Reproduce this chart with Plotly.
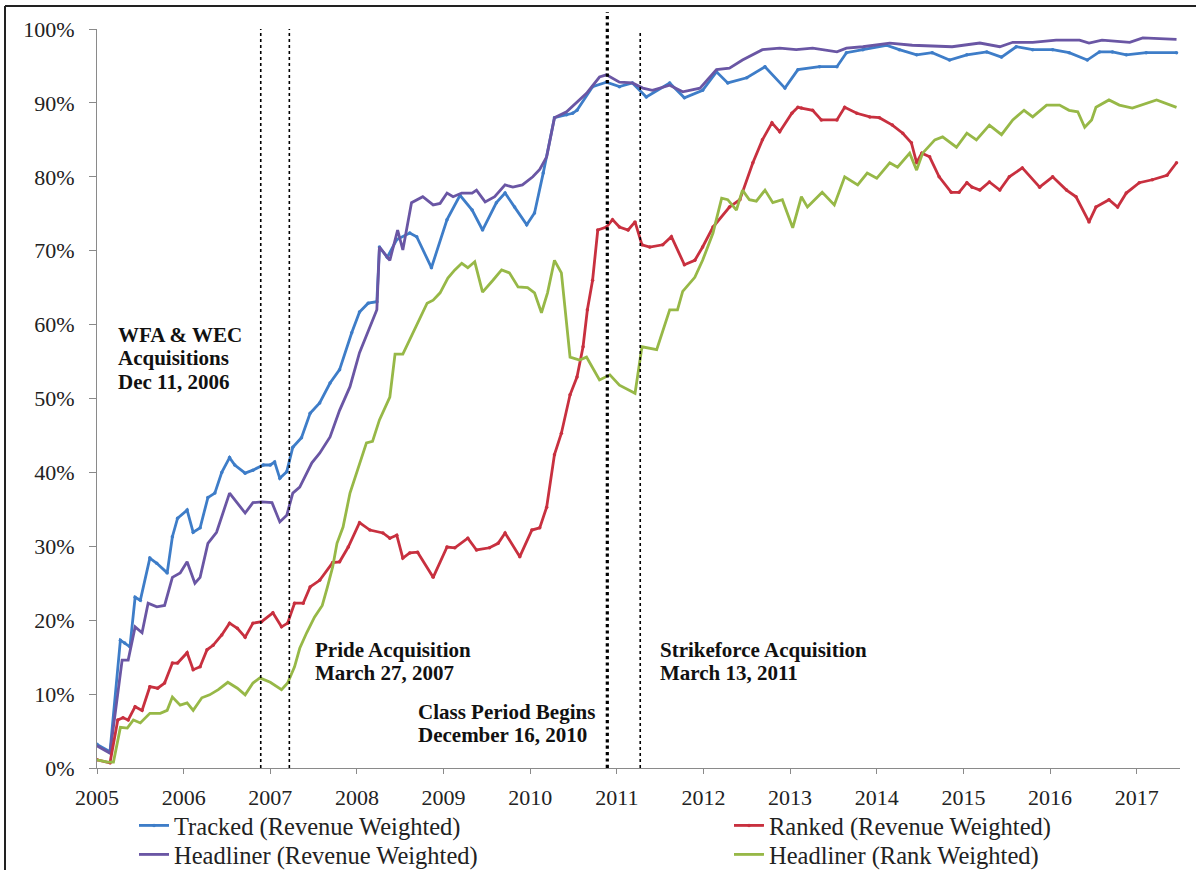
import plotly.graph_objects as go

# ---------------- data (decimal years, percent) ----------------
tracked_x = [2005.00, 2005.15, 2005.27, 2005.32, 2005.38, 2005.44, 2005.50, 2005.61, 2005.69, 2005.81,
             2005.87, 2005.93, 2006.04, 2006.11, 2006.19, 2006.28, 2006.36, 2006.44, 2006.53, 2006.59,
             2006.71, 2006.80, 2006.92, 2007.00, 2007.05, 2007.11, 2007.19, 2007.26, 2007.36, 2007.46,
             2007.57, 2007.69, 2007.80, 2007.94, 2008.03, 2008.13, 2008.23, 2008.26, 2008.35, 2008.46,
             2008.61, 2008.69, 2008.86, 2009.04, 2009.19, 2009.33, 2009.45, 2009.61, 2009.71, 2009.82,
             2009.96, 2010.05, 2010.15, 2010.28, 2010.42, 2010.49, 2010.54, 2010.72, 2010.88, 2011.03,
             2011.18, 2011.34, 2011.61, 2011.78, 2011.99, 2012.15, 2012.28, 2012.50, 2012.71, 2012.94,
             2013.09, 2013.34, 2013.54, 2013.65, 2013.84, 2014.11, 2014.26, 2014.46, 2014.64, 2014.84,
             2015.04, 2015.27, 2015.44, 2015.61, 2015.80, 2016.03, 2016.22, 2016.43, 2016.57, 2016.72,
             2016.88, 2017.11, 2017.46]
tracked_y = [3.2, 2.2, 17.3, 16.9, 16.4, 23.1, 22.7, 28.4, 27.7, 26.4,
             31.3, 33.8, 34.9, 31.9, 32.5, 36.6, 37.2, 40.0, 42.0, 41.0,
             39.9, 40.3, 41.0, 41.0, 41.4, 39.2, 40.1, 43.4, 44.7, 48.0,
             49.4, 52.1, 53.9, 58.9, 61.7, 62.9, 63.1, 70.5, 69.1, 71.5,
             72.4, 71.9, 67.7, 74.2, 77.5, 75.5, 72.8, 76.5, 77.8, 75.9,
             73.5, 75.1, 80.5, 88.0, 88.4, 88.6, 89.0, 92.2, 92.8, 92.2,
             92.7, 90.8, 92.7, 90.7, 91.7, 94.2, 92.7, 93.4, 94.9, 92.0,
             94.5, 94.9, 94.9, 96.8, 97.2, 97.8, 97.2, 96.5, 96.8, 95.8,
             96.5, 96.9, 96.2, 97.6, 97.2, 97.2, 96.8, 95.8, 96.9, 96.9,
             96.5, 96.8, 96.8]

ranked_x = [2005.00, 2005.15, 2005.24, 2005.30, 2005.36, 2005.44, 2005.52, 2005.61, 2005.70, 2005.78,
            2005.87, 2005.93, 2006.04, 2006.11, 2006.19, 2006.27, 2006.34, 2006.44, 2006.53, 2006.62,
            2006.71, 2006.80, 2006.90, 2007.03, 2007.13, 2007.20, 2007.28, 2007.38, 2007.46, 2007.57,
            2007.72, 2007.80, 2007.90, 2008.03, 2008.15, 2008.30, 2008.38, 2008.46, 2008.53, 2008.61,
            2008.70, 2008.88, 2009.04, 2009.13, 2009.28, 2009.38, 2009.53, 2009.63, 2009.71, 2009.88,
            2010.02, 2010.11, 2010.19, 2010.28, 2010.36, 2010.46, 2010.54, 2010.61, 2010.66, 2010.72,
            2010.78, 2010.88, 2010.95, 2011.03, 2011.13, 2011.21, 2011.29, 2011.38, 2011.53, 2011.63,
            2011.78, 2011.90, 2011.99, 2012.11, 2012.30, 2012.42, 2012.57, 2012.68, 2012.79, 2012.88,
            2013.02, 2013.09, 2013.13, 2013.26, 2013.36, 2013.54, 2013.63, 2013.77, 2013.92, 2014.03,
            2014.18, 2014.30, 2014.40, 2014.46, 2014.52, 2014.61, 2014.72, 2014.86, 2014.95, 2015.04,
            2015.10, 2015.19, 2015.30, 2015.42, 2015.53, 2015.68, 2015.88, 2016.03, 2016.19, 2016.30,
            2016.45, 2016.53, 2016.68, 2016.78, 2016.88, 2017.03, 2017.18, 2017.35, 2017.46]
ranked_y = [1.1, 0.7, 6.5, 6.8, 6.5, 8.3, 7.8, 11.0, 10.8, 11.5,
            14.2, 14.2, 15.6, 13.3, 13.7, 16.0, 16.6, 18.0, 19.6, 18.9,
            17.7, 19.6, 19.8, 21.0, 19.1, 19.6, 22.3, 22.3, 24.5, 25.4,
            27.8, 27.9, 29.9, 33.2, 32.2, 31.8, 31.1, 31.5, 28.4, 29.1,
            29.2, 25.8, 29.9, 29.8, 31.1, 29.5, 29.8, 30.4, 31.8, 28.6,
            32.2, 32.5, 35.3, 42.4, 45.3, 50.5, 52.9, 57.0, 62.0, 66.0,
            72.8, 73.2, 74.2, 73.2, 72.8, 73.9, 70.8, 70.5, 70.8, 71.9,
            68.1, 68.7, 70.5, 73.2, 75.9, 76.9, 81.9, 85.0, 87.3, 86.1,
            88.6, 89.4, 89.3, 89.0, 87.7, 87.7, 89.4, 88.6, 88.1, 88.0,
            87.0, 85.9, 84.6, 81.9, 83.2, 82.7, 80.0, 77.9, 77.9, 79.2,
            78.6, 78.2, 79.3, 78.2, 80.0, 81.2, 78.6, 80.0, 78.2, 77.3,
            73.9, 75.9, 76.9, 75.9, 77.8, 79.2, 79.6, 80.2, 81.9]

headrev_x = [2005.00, 2005.15, 2005.29, 2005.36, 2005.44, 2005.52, 2005.59, 2005.69, 2005.78, 2005.87,
             2005.96, 2006.04, 2006.13, 2006.19, 2006.28, 2006.38, 2006.53, 2006.62, 2006.71, 2006.80,
             2006.90, 2007.02, 2007.11, 2007.19, 2007.26, 2007.34, 2007.48, 2007.57, 2007.69, 2007.80,
             2007.92, 2008.03, 2008.15, 2008.23, 2008.26, 2008.38, 2008.47, 2008.53, 2008.63, 2008.76,
             2008.88, 2008.96, 2009.04, 2009.11, 2009.21, 2009.33, 2009.38, 2009.48, 2009.59, 2009.71,
             2009.80, 2009.91, 2010.03, 2010.11, 2010.19, 2010.28, 2010.42, 2010.65, 2010.80, 2010.88,
             2011.03, 2011.18, 2011.30, 2011.41, 2011.61, 2011.76, 2011.96, 2012.15, 2012.30, 2012.45,
             2012.68, 2012.88, 2013.07, 2013.26, 2013.54, 2013.65, 2013.84, 2014.15, 2014.41, 2014.87,
             2015.19, 2015.42, 2015.57, 2015.80, 2016.07, 2016.34, 2016.45, 2016.60, 2016.92, 2017.07,
             2017.46]
headrev_y = [3.0, 2.0, 14.6, 14.6, 19.1, 18.3, 22.3, 21.8, 22.0, 25.8,
             26.4, 27.9, 25.0, 25.8, 30.4, 31.9, 37.2, 35.9, 34.5, 35.9,
             36.0, 35.9, 33.3, 34.2, 37.2, 38.0, 41.3, 42.6, 44.8, 48.4,
             51.6, 56.2, 59.7, 62.0, 70.5, 68.7, 72.8, 70.1, 76.5, 77.3,
             76.2, 76.4, 77.8, 77.3, 77.8, 77.8, 78.2, 76.6, 77.3, 78.9,
             78.6, 78.9, 80.0, 81.0, 82.7, 88.0, 88.8, 91.3, 93.5, 93.8,
             92.8, 92.7, 92.0, 91.7, 92.4, 91.5, 92.0, 94.5, 94.7, 95.8,
             97.2, 97.4, 97.2, 97.4, 96.9, 97.4, 97.6, 98.1, 97.8, 97.6,
             98.1, 97.6, 98.2, 98.2, 98.5, 98.5, 98.1, 98.5, 98.2, 98.8,
             98.6]

headrank_x = [2005.00, 2005.12, 2005.19, 2005.27, 2005.35, 2005.42, 2005.50, 2005.61, 2005.73, 2005.81,
              2005.87, 2005.96, 2006.04, 2006.11, 2006.21, 2006.30, 2006.40, 2006.51, 2006.62, 2006.71,
              2006.80, 2006.88, 2007.00, 2007.13, 2007.20, 2007.28, 2007.34, 2007.42, 2007.51, 2007.60,
              2007.66, 2007.72, 2007.77, 2007.84, 2007.92, 2008.01, 2008.11, 2008.18, 2008.26, 2008.38,
              2008.44, 2008.53, 2008.65, 2008.81, 2008.88, 2008.96, 2009.05, 2009.13, 2009.21, 2009.28,
              2009.36, 2009.45, 2009.57, 2009.67, 2009.76, 2009.86, 2009.97, 2010.05, 2010.13, 2010.20,
              2010.28, 2010.36, 2010.46, 2010.57, 2010.65, 2010.80, 2010.92, 2011.03, 2011.21, 2011.29,
              2011.46, 2011.61, 2011.70, 2011.76, 2011.90, 2011.99, 2012.11, 2012.21, 2012.28, 2012.38,
              2012.45, 2012.53, 2012.61, 2012.71, 2012.80, 2012.91, 2013.03, 2013.13, 2013.20, 2013.37,
              2013.51, 2013.63, 2013.78, 2013.89, 2014.00, 2014.15, 2014.24, 2014.38, 2014.46, 2014.53,
              2014.67, 2014.76, 2014.92, 2015.04, 2015.15, 2015.30, 2015.44, 2015.57, 2015.70, 2015.80,
              2015.96, 2016.11, 2016.22, 2016.32, 2016.40, 2016.48, 2016.53, 2016.68, 2016.80, 2016.95,
              2017.23, 2017.46]
headrank_y = [1.1, 0.8, 0.8, 5.5, 5.4, 6.5, 6.1, 7.4, 7.4, 7.8,
              9.6, 8.5, 8.8, 7.8, 9.5, 9.9, 10.6, 11.6, 10.8, 9.9,
              11.5, 12.2, 11.6, 10.6, 11.5, 13.7, 16.2, 18.3, 20.4, 22.0,
              24.5, 27.2, 30.4, 32.6, 37.2, 40.3, 44.0, 44.2, 47.1, 50.2,
              56.0, 56.0, 59.0, 62.9, 63.3, 64.3, 66.3, 67.4, 68.3, 67.7,
              68.5, 64.4, 66.0, 67.4, 67.0, 65.1, 65.0, 64.3, 61.6, 64.3,
              68.7, 67.0, 55.6, 55.2, 55.6, 52.5, 53.2, 51.8, 50.7, 57.0,
              56.6, 62.0, 62.0, 64.5, 66.4, 68.7, 72.4, 77.1, 76.9, 75.5,
              78.2, 76.9, 76.7, 78.2, 76.5, 76.9, 73.1, 77.3, 75.9, 77.9,
              76.2, 80.0, 78.9, 80.5, 79.8, 81.9, 81.3, 83.2, 80.9, 83.2,
              85.0, 85.4, 84.0, 85.9, 85.0, 87.0, 85.7, 87.7, 89.0, 88.1,
              89.7, 89.7, 89.0, 88.8, 86.7, 87.7, 89.4, 90.4, 89.7, 89.3,
              90.4, 89.4]

year_ticks = list(range(2005, 2018))
year_labels = [str(y) for y in year_ticks]
pct_ticks = list(range(0, 101, 10))
pct_labels = [f"{v}%" for v in pct_ticks]

event_x = [2006.89, 2007.22, 2010.89, 2011.27]

series_names = ["Tracked (Revenue Weighted)", "Ranked (Revenue Weighted)",
                "Headliner (Revenue Weighted)", "Headliner (Rank Weighted)"]

# ---------------- figure ----------------
SERIF = "Liberation Serif, Times New Roman, serif"
C_BLUE = "#3E7DC8"
C_RED = "#C8303F"
C_PURPLE = "#6A56A4"
C_GREEN = "#97B847"
W, H = 1196, 870
ML, MR, MT, MB = 97, 16, 29, 102

fig = go.Figure()
fig.add_trace(go.Scatter(x=tracked_x, y=tracked_y, name=series_names[0], mode="lines+markers",
                         line=dict(color=C_BLUE, width=2.8), marker=dict(size=3.5, color=C_BLUE),
                         legend="legend"))
fig.add_trace(go.Scatter(x=headrev_x, y=headrev_y, name=series_names[2], mode="lines",
                         line=dict(color=C_PURPLE, width=2.8), legend="legend3"))
fig.add_trace(go.Scatter(x=ranked_x, y=ranked_y, name=series_names[1], mode="lines+markers",
                         line=dict(color=C_RED, width=2.8), marker=dict(size=3.5, color=C_RED),
                         legend="legend2"))
fig.add_trace(go.Scatter(x=headrank_x, y=headrank_y, name=series_names[3], mode="lines",
                         line=dict(color=C_GREEN, width=2.8), legend="legend4"))

# event lines
event_tops = [1.0, 1.0, 1.023, 0.996]
event_widths = [1.6, 1.6, 3.2, 1.6]
for ex, top, w in zip(event_x, event_tops, event_widths):
    fig.add_shape(type="line", xref="x", yref="paper", x0=ex, x1=ex, y0=0, y1=top,
                  line=dict(color="black", width=w, dash="dot"))

# annotations (one per line, left aligned)
ann_lines = [
    ("WFA & WEC", 2005.22, 58.6), ("Acquisitions", 2005.22, 55.5), ("Dec 11, 2006", 2005.22, 52.2),
    ("Pride Acquisition", 2007.49, 16.0), ("March 27, 2007", 2007.49, 12.9),
    ("Class Period Begins", 2008.68, 7.6), ("December 16, 2010", 2008.68, 4.5),
    ("Strikeforce Acquisition", 2011.48, 16.0), ("March 13, 2011", 2011.48, 12.9),
]
for txt, ax_, ay_ in ann_lines:
    fig.add_annotation(x=ax_, y=ay_, xref="x", yref="y", text=f"<b>{txt}</b>", showarrow=False,
                       xanchor="left", yanchor="middle",
                       font=dict(family=SERIF, size=21, color="#111"))

# outer frame (left and top edges)
pw, ph = W - ML - MR, H - MT - MB
fx0 = -(ML - 5) / pw
fy1 = 1 + (MT - 6) / ph
fig.add_shape(type="line", xref="paper", yref="paper", x0=fx0, x1=fx0, y0=-MB / ph, y1=fy1,
              line=dict(color="#222", width=2))
fig.add_shape(type="line", xref="paper", yref="paper", x0=fx0, x1=1 + MR / pw, y0=fy1, y1=fy1,
              line=dict(color="#222", width=2))

leg_common = dict(orientation="h", xref="container", yref="container", xanchor="left", yanchor="top",
                  font=dict(family=SERIF, size=24.5, color="#222"), bgcolor="rgba(0,0,0,0)",
                  itemwidth=30)

fig.update_layout(
    width=W, height=H,
    margin=dict(l=ML, r=MR, t=MT, b=MB, autoexpand=False),
    paper_bgcolor="white", plot_bgcolor="white",
    font=dict(family=SERIF, color="#222"),
    showlegend=True,
    legend=dict(x=134 / W, y=1 - 803 / H, **leg_common),
    legend3=dict(x=134 / W, y=1 - 832 / H, **leg_common),
    legend2=dict(x=729 / W, y=1 - 803 / H, **leg_common),
    legend4=dict(x=729 / W, y=1 - 832 / H, **leg_common),
    xaxis=dict(range=[2005, 2017.5], tickvals=year_ticks, ticktext=year_labels, showgrid=False,
               zeroline=False, showline=True, linecolor="#8a8a8a", linewidth=1.2, ticks="outside",
               ticklen=5, tickcolor="#8a8a8a", tickfont=dict(family=SERIF, size=22, color="#222"),
               ticklabelstandoff=4, automargin=False),
    yaxis=dict(range=[0, 100], tickvals=pct_ticks, ticktext=pct_labels, showgrid=False,
               zeroline=False, showline=True, linecolor="#8a8a8a", linewidth=1.2, ticks="outside",
               ticklen=7, tickcolor="#8a8a8a", tickfont=dict(family=SERIF, size=22, color="#222"),
               ticklabelstandoff=10, automargin=False),
)

fig.write_html("out.html", config={"displayModeBar": False},
               post_script="document.body.style.margin='0';document.body.style.overflow='hidden';")
